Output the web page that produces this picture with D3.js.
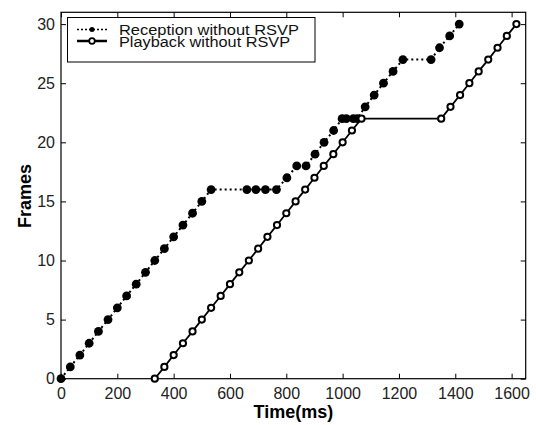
<!DOCTYPE html>
<html>
<head>
<meta charset="utf-8">
<script src="https://cdn.jsdelivr.net/npm/d3@7"></script>
<style>
  body { margin: 0; background: #fff; }
  text { font-family: Arial, "Liberation Sans", sans-serif; }
</style>
</head>
<body>
<div id="chart"></div>
<script>
// reception of frames (ms, frame number)
var recTime = [0, 33, 67, 100, 133, 167, 200, 233, 267, 300, 333, 367, 400, 433, 467, 500, 533,
  660, 692, 726, 765, 802, 837, 870, 902, 934, 968, 998, 1013, 1038, 1052,
  1080, 1112, 1145, 1179, 1214, 1314, 1344, 1380, 1414];
var recFrame = [0, 1, 2, 3, 4, 5, 6, 7, 8, 9, 10, 11, 12, 13, 14, 15, 16,
  16, 16, 16, 16, 17, 18, 18, 19, 20, 21, 22, 22, 22, 22,
  23, 24, 25, 26, 27, 27, 28, 29, 30];

// playback of frames
var playTime = [333, 367, 400, 433, 467, 500, 533, 567, 600, 633, 667, 700, 733, 767, 800, 833,
  867, 900, 933, 967, 1000, 1033, 1067, 1350, 1383, 1417, 1450, 1483, 1517, 1550, 1583, 1617];
var playFrame = [0, 1, 2, 3, 4, 5, 6, 7, 8, 9, 10, 11, 12, 13, 14, 15,
  16, 17, 18, 19, 20, 21, 22, 22, 23, 24, 25, 26, 27, 28, 29, 30];

var xTicks = [0, 200, 400, 600, 800, 1000, 1200, 1400, 1600];
var yTicks = [0, 5, 10, 15, 20, 25, 30];
var legendNames = ["Reception without RSVP", "Playback without RSVP"];

var W = 536, H = 425;
var pLeft = 61, pRight = 525.7, pTop = 12.3, pBottom = 378.7;

var svg = d3.select("#chart").append("svg")
    .attr("width", W).attr("height", H);

var x = d3.scaleLinear().domain([0, 1650]).range([pLeft, pRight]);
var y = d3.scaleLinear().domain([0, 31]).range([pBottom, pTop]);

var rec = recTime.map(function(t, i) { return [t, recFrame[i]]; });
var play = playTime.map(function(t, i) { return [t, playFrame[i]]; });

var line = d3.line()
    .x(function(d) { return x(d[0]); })
    .y(function(d) { return y(d[1]); });

// axes with inward ticks on all sides
svg.append("g").attr("transform", "translate(0," + pBottom + ")")
    .call(d3.axisBottom(x).tickValues(xTicks).tickFormat(d3.format("d"))
      .tickSizeInner(-5).tickSizeOuter(0).tickPadding(9));
svg.append("g").attr("transform", "translate(0," + pTop + ")")
    .call(d3.axisTop(x).tickValues(xTicks).tickSizeInner(-5).tickSizeOuter(0).tickFormat(""));
svg.append("g").attr("transform", "translate(" + pLeft + ",0)")
    .call(d3.axisLeft(y).tickValues(yTicks).tickSizeInner(-5).tickSizeOuter(0).tickPadding(6));
svg.append("g").attr("transform", "translate(" + pRight + ",0)")
    .call(d3.axisRight(y).tickValues(yTicks).tickSizeInner(-5).tickSizeOuter(0).tickFormat(""));

svg.selectAll(".domain").remove();
svg.selectAll(".tick line").attr("stroke", "#000");
svg.selectAll(".tick text").attr("font-size", "16px").attr("fill", "#222")
    .style("font-family", "Arial, 'Liberation Sans', sans-serif");

svg.append("rect")
    .attr("x", pLeft).attr("y", pTop)
    .attr("width", pRight - pLeft).attr("height", pBottom - pTop)
    .attr("fill", "none").attr("stroke", "#000").attr("stroke-width", 1.2);

// reception series
svg.append("path").datum(rec)
    .attr("d", line)
    .attr("fill", "none").attr("stroke", "#000")
    .attr("stroke-width", 2).attr("stroke-dasharray", "2,3");
svg.selectAll(".rec").data(rec).enter().append("circle")
    .attr("class", "rec")
    .attr("cx", function(d) { return x(d[0]); })
    .attr("cy", function(d) { return y(d[1]); })
    .attr("r", 4.4).attr("fill", "#000");

// playback series
svg.append("path").datum(play)
    .attr("d", line)
    .attr("fill", "none").attr("stroke", "#000").attr("stroke-width", 1.8);
svg.selectAll(".play").data(play).enter().append("circle")
    .attr("class", "play")
    .attr("cx", function(d) { return x(d[0]); })
    .attr("cy", function(d) { return y(d[1]); })
    .attr("r", 3.1).attr("fill", "#fff").attr("stroke", "#000").attr("stroke-width", 2);

// legend
var lg = svg.append("g");
lg.append("rect").attr("x", 67.5).attr("y", 17.5).attr("width", 247.5).attr("height", 44.5)
    .attr("fill", "#fff").attr("stroke", "#000");
lg.append("line").attr("x1", 77).attr("x2", 107).attr("y1", 29.5).attr("y2", 29.5)
    .attr("stroke", "#000").attr("stroke-width", 1.5).attr("stroke-dasharray", "2,2");
lg.append("circle").attr("cx", 92).attr("cy", 29.5).attr("r", 2.5).attr("fill", "#000");
lg.append("line").attr("x1", 77).attr("x2", 107).attr("y1", 41).attr("y2", 41)
    .attr("stroke", "#000").attr("stroke-width", 2.5);
lg.append("circle").attr("cx", 92).attr("cy", 41).attr("r", 2.8)
    .attr("fill", "#fff").attr("stroke", "#000").attr("stroke-width", 1.8);
lg.selectAll(".lt").data(legendNames).enter().append("text")
    .attr("class", "lt")
    .attr("x", 119).attr("y", function(d, i) { return 34.5 + i * 12.5; })
    .attr("font-size", "15.5px")
    .attr("textLength", function(d, i) { return i === 0 ? 180 : 171; })
    .attr("lengthAdjust", "spacingAndGlyphs")
    .attr("fill", "#111")
    .text(function(d) { return d; });

// axis titles
svg.append("text")
    .attr("x", (pLeft + pRight) / 2).attr("y", 418)
    .attr("text-anchor", "middle").attr("font-size", "18px").attr("font-weight", "bold")
    .text("Time(ms)");
svg.append("text")
    .attr("transform", "translate(31,196) rotate(-90)")
    .attr("text-anchor", "middle").attr("font-size", "18px").attr("font-weight", "bold")
    .text("Frames");
</script>
</body>
</html>
